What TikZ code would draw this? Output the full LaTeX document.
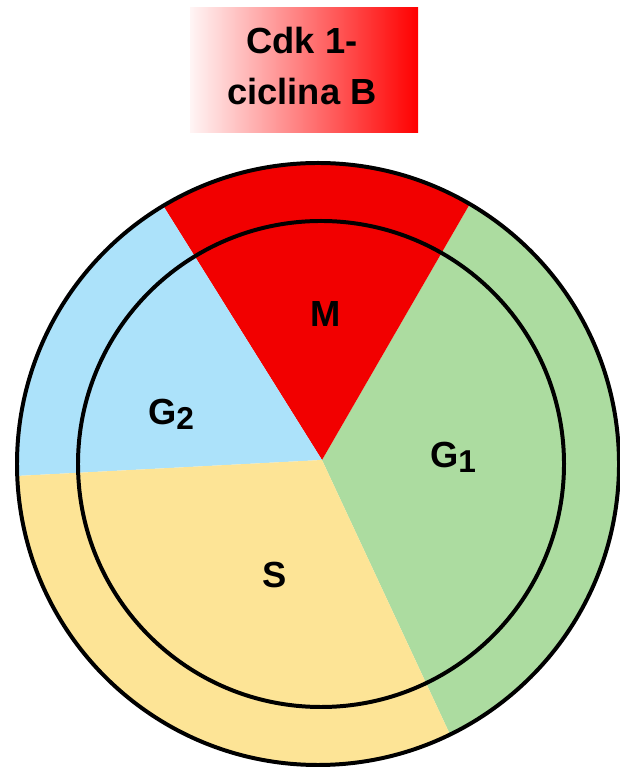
\documentclass[tikz,border=0pt]{standalone}
\usepackage{fontspec}
\setmainfont{Liberation Sans}
\usetikzlibrary{positioning}

\definecolor{fasem}{RGB}{242,0,0}
\definecolor{faseg1}{RGB}{172,220,160}
\definecolor{faseg2}{RGB}{172,226,250}
\definecolor{fases}{RGB}{253,228,150}
\newcommand{\fasesub}[1]{\raisebox{-4pt}{\fontsize{27}{27}\selectfont #1}}

\begin{document}
\begin{tikzpicture}[x=0.03cm,y=0.03cm,font=\bfseries\fontsize{31}{44}\selectfont]
\useasboundingbox (0,0) rectangle (619,769);
\shade[left color=red!4,right color=red] (190,636) rectangle (418,761);
\node[align=center,inner sep=0] (ciclina) at (302,703) {Cdk 1-\\ciclina B};
\begin{scope}
\clip (318,305) circle (301);
\fill[faseg1] (322,309) -- ++(-65:450) arc[start angle=-65,end angle=60,radius=450] -- cycle;
\fill[fasem] (322,309) -- ++(60:450) arc[start angle=60,end angle=122,radius=450] -- cycle;
\fill[faseg2] (322,309) -- ++(122:450) arc[start angle=122,end angle=183,radius=450] -- cycle;
\fill[fases] (322,309) -- ++(183:450) arc[start angle=183,end angle=295,radius=450] -- cycle;
\end{scope}
\draw[line width=3.4pt] (318,305) circle (301);
\draw[line width=3.4pt] (321,305) circle (243);
\node[anchor=base west,inner sep=0] (fm) at (310,442) {M};
\node[anchor=base west,inner sep=0] (fg2) at (148,344) {G\fasesub{2}};
\node[anchor=base west,inner sep=0] (fg1) at (430,301) {G\fasesub{1}};
\node[anchor=base west,inner sep=0] (fs) at (262,181) {S};
\end{tikzpicture}
\end{document}
